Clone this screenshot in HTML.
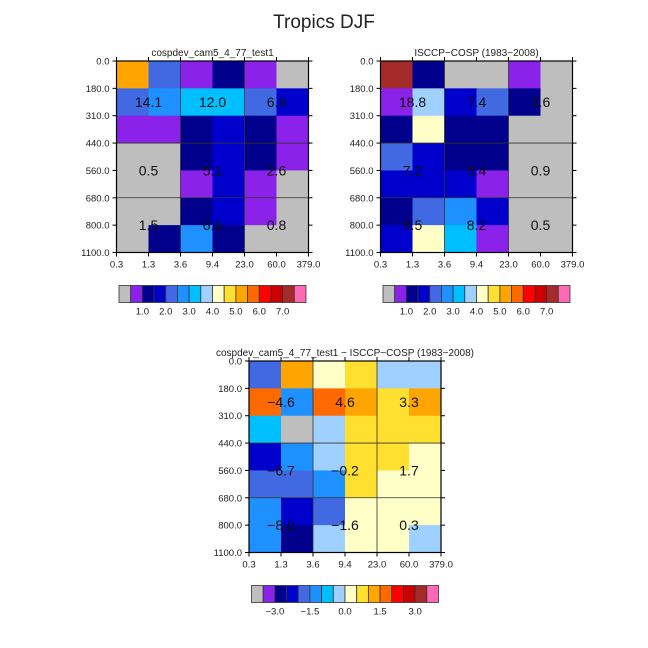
<!DOCTYPE html>
<html><head><meta charset="utf-8"><style>
html,body{margin:0;padding:0;background:#fff;}
svg{display:block;font-family:"Liberation Sans",sans-serif;}
</style></head><body>
<svg id="svg" width="648" height="648" viewBox="0 0 648 648">
<text x="324" y="28" font-size="19" text-anchor="middle" fill="#222">Tropics DJF</text>
</svg>
<script>
const xTicks = ["0.3","1.3","3.6","9.4","23.0","60.0","379.0"];
const yTicks = ["0.0","180.0","310.0","440.0","560.0","680.0","800.0","1100.0"];
const palette = ["#bebebe","#8a22ea","#00008c","#0000cd","#4169e1","#1e90ff","#00bfff","#a0d0ff","#ffffc8","#ffe030","#ffa500","#ff6a00","#ff0000","#cc0000","#a52a2a","#ff69b4"];
// model values (%)
const modelVals = [
 [5.25,2.25,0.75,1.25,0.75,0.2],
 [2.25,2.75,3.25,3.25,2.25,1.75],
 [0.75,0.75,1.25,1.75,1.25,0.75],
 [0.2,0.2,1.25,1.75,1.25,0.75],
 [0.2,0.2,0.75,1.75,0.75,0.2],
 [0.2,0.2,1.25,1.75,0.75,0.2],
 [0.2,1.25,2.75,1.25,0.2,0.2]];
const obsVals = [
 [7.25,1.25,0.2,0.2,0.75,0.2],
 [0.75,3.75,1.75,2.25,1.25,0.2],
 [1.25,4.25,1.25,1.25,0.2,0.2],
 [2.25,1.75,1.25,1.25,0.2,0.2],
 [1.75,1.75,1.75,0.75,0.2,0.2],
 [1.25,2.25,2.75,1.75,0.2,0.2],
 [1.75,4.25,3.25,0.75,0.2,0.2]];
const diffVals = [
 [-1.75,1.25,0.25,0.75,-0.25,-0.25],
 [1.75,-1.25,1.75,1.25,0.75,1.25],
 [-0.75,-3.8,-0.25,0.75,0.75,0.75],
 [-2.25,-1.25,-0.25,0.75,0.75,0.25],
 [-1.75,-1.75,-1.25,0.75,0.25,0.25],
 [-1.25,-2.25,-1.75,0.25,0.25,0.25],
 [-1.25,-2.75,-0.25,0.25,0.25,-0.25]];
const modelTotals = ["14.1","12.0","6.9","0.5","5.1","2.6","1.5","6.6","0.8"];
const obsTotals = ["18.8","7.4","3.6","7.2","5.4","0.9","9.5","8.2","0.5"];
const diffTotals = ["\u22124.6","4.6","3.3","\u22126.7","\u22120.2","1.7","\u22128.0","\u22121.6","0.3"];
const absLabels = ["1.0","2.0","3.0","4.0","5.0","6.0","7.0"];
const diffLabels = ["\u22123.0","\u22121.5","0.0","1.5","3.0"];

const NS="http://www.w3.org/2000/svg";
const svg=document.getElementById('svg');
function mk(tag,attrs,parent){const e=document.createElementNS(NS,tag);for(const k in attrs)e.setAttribute(k,attrs[k]);(parent||svg).appendChild(e);return e;}
function idxAbs(v){if(v<0.5)return 0;return Math.min(15,Math.floor(v/0.5));}
function idxDiff(v){if(v<-3.5)return 0;return Math.min(15,Math.floor((v+4)/0.5));}

function heatmap(name,x0,y0,w,h,vals,totals,title,idxFn,cbLabels,cbStep,cbStart){
  const g=mk('g',{});
  
  
  const cw=w/6,rh=h/7;
  const X=i=>x0+i*cw, Y=j=>y0+j*rh;
  const t=mk('text',{x:x0+w/2,y:y0-5,'font-size':10,'text-anchor':'middle',fill:'#222'},g);
  t.textContent=title;
  
  
  vals.forEach((row,j)=>row.forEach((v,i)=>{
    const r=mk('rect',{x:X(i),y:Y(j),width:cw+0.5,height:rh+0.5,fill:palette[idxFn(v)]},g);
    
    
  }));
  [2,4].forEach(i=>mk('line',{x1:X(i),x2:X(i),y1:y0,y2:y0+h,stroke:'#333','stroke-width':0.8},g));
  [3,5].forEach(j=>mk('line',{x1:x0,x2:x0+w,y1:Y(j),y2:Y(j),stroke:'#333','stroke-width':0.8},g));
  mk('rect',{x:x0,y:y0,width:w,height:h,fill:'none',stroke:'#000','stroke-width':1.2},g);
  xTicks.forEach((lab,i)=>{
    mk('line',{x1:X(i),x2:X(i),y1:y0+h,y2:y0+h+4,stroke:'#000'},g);
    mk('line',{x1:X(i),x2:X(i),y1:y0,y2:y0-4,stroke:'#000'},g);
    const tt=mk('text',{x:X(i),y:y0+h+15,'font-size':9.5,'text-anchor':'middle',fill:'#222'},g);
    tt.textContent=lab;
    
    
  });
  yTicks.forEach((lab,j)=>{
    mk('line',{x1:x0-4,x2:x0,y1:Y(j),y2:Y(j),stroke:'#000'},g);
    mk('line',{x1:x0+w,x2:x0+w+4,y1:Y(j),y2:Y(j),stroke:'#000'},g);
    const tt=mk('text',{x:x0-7,y:Y(j)+3.5,'font-size':9.5,'text-anchor':'end',fill:'#222'},g);
    tt.textContent=lab;
    
    
  });
  const pos=[[1,1.5],[3,1.5],[5,1.5],[1,4],[3,4],[5,4],[1,6],[3,6],[5,6]];
  totals.forEach((lab,k)=>{
    const tt=mk('text',{x:X(pos[k][0]),y:Y(pos[k][1])+5,'font-size':14,'text-anchor':'middle',fill:'#111'},g);
    tt.textContent=lab;
    
    
  });
  // colorbar
  const cbx=x0+2.5, cby=y0+h+33, bw=(w-5)/16, bh=17;
  palette.forEach((c,k)=>{
    const r=mk('rect',{x:cbx+k*bw,y:cby,width:bw,height:bh,fill:c,stroke:'#333','stroke-width':0.8},g);
    
    
  });
  cbLabels.forEach((lab,k)=>{
    const tt=mk('text',{x:cbx+(cbStart+k*cbStep)*bw,y:cby+bh+12,'font-size':9.5,'text-anchor':'middle',fill:'#222'},g);
    tt.textContent=lab;
    
    
  });
}
heatmap('model-heatmap',116.5,61,192,191.5,modelVals,modelTotals,'cospdev_cam5_4_77_test1',idxAbs,absLabels,2,2);
heatmap('obs-heatmap',380.5,61,192,191.5,obsVals,obsTotals,'ISCCP\u2212COSP (1983\u22122008)',idxAbs,absLabels,2,2);
heatmap('diff-heatmap',249,361,192,191.5,diffVals,diffTotals,'cospdev_cam5_4_77_test1 \u2212 ISCCP\u2212COSP (1983\u22122008)',idxDiff,diffLabels,3,2);
</script>
</body></html>
